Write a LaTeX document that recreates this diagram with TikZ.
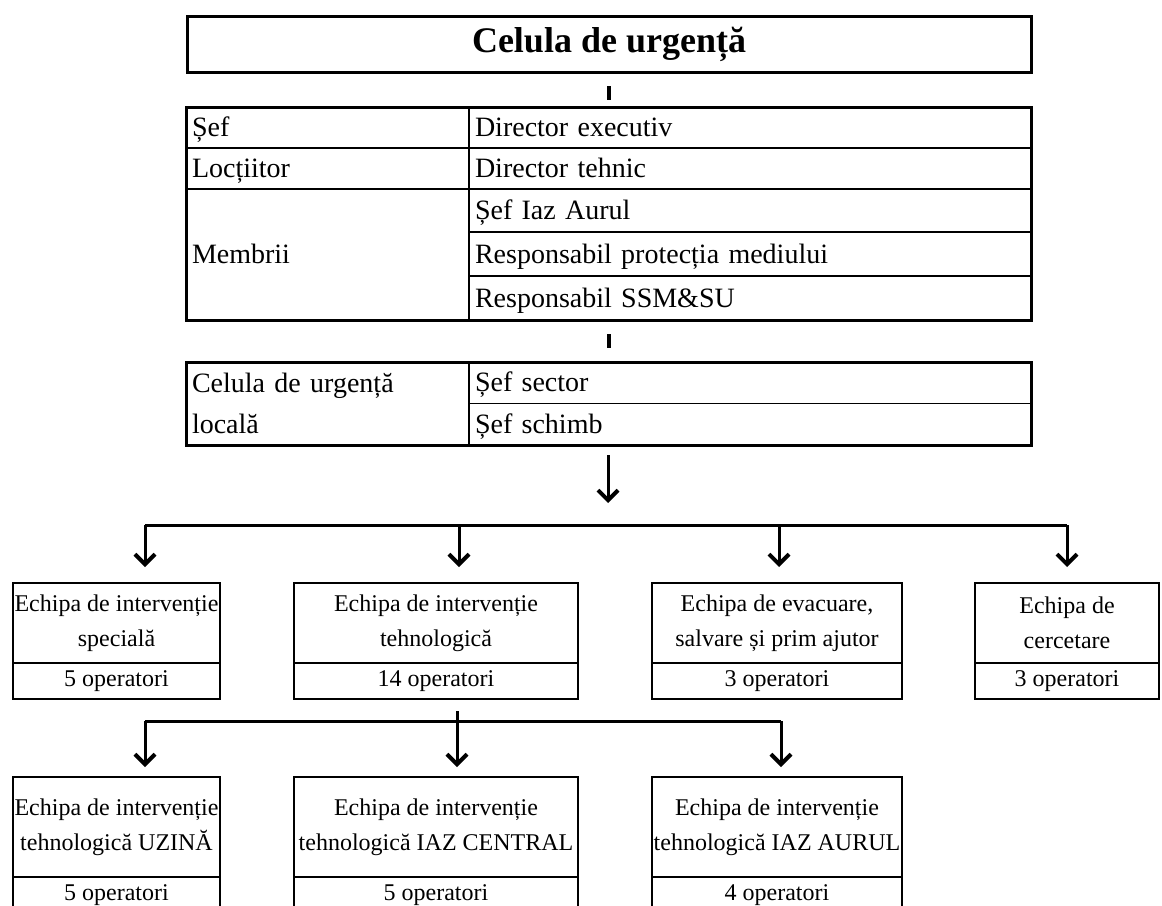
\documentclass[tikz,border=0pt]{standalone}
\usepackage{fontspec}
\setmainfont{Liberation Serif}
\usetikzlibrary{arrows.meta,positioning}

\begin{document}
\begin{tikzpicture}[x=1pt,y=-1pt,
        headbox/.style={draw,line width=3pt,minimum width=844pt,minimum height=56pt,inner sep=0pt,outer sep=0pt,font=\fontsize{36}{40}\selectfont\bfseries},
        cellbase/.style={draw,line width=1.5pt,text width=271pt,inner xsep=6pt,inner ysep=0pt,outer sep=0pt,align=left,anchor=north west,font=\fontsize{28}{30}\selectfont},
        cellL/.style={cellbase,text height=23pt,text depth=5pt},
        cellR/.style={cellL,text width=550pt},
        team/.style={draw,line width=2pt,inner sep=0pt,outer sep=0pt,align=center,anchor=north,minimum height=80pt,font=\fontsize{24}{35}\selectfont},
        count/.style={draw,line width=2pt,inner sep=0pt,outer sep=0pt,minimum height=36pt,font=\fontsize{24}{28}\selectfont},
        frame/.style={line width=3pt},
        tick/.style={line width=4pt},
        wire/.style={line width=3pt},
        arrow/.style={line width=3pt,-{Straight Barb[length=10pt,width=20pt,line width=4pt]}}]

    \useasboundingbox (0,0) rectangle (1162,905);
    \clip (0,0) rectangle (1162,905);

    % Head of the cell
    \node[headbox] (head) at (609,44) {Celula de urgență};

    % Main table
    \node[cellL,minimum height=41pt] (sef) at (186,107) {Șef};
    \node[cellR,minimum height=41pt] (dirx) at (469,107) {Director executiv};
    \node[cellL,minimum height=41pt] (loc) at (186,148) {Locțiitor};
    \node[cellR,minimum height=41pt] (dirt) at (469,148) {Director tehnic};
    \node[cellL,minimum height=131pt] (memb) at (186,189) {Membrii};
    \node[cellR,minimum height=43pt] (iaz) at (469,189) {Șef Iaz Aurul};
    \node[cellR,minimum height=44pt] (mediu) at (469,232) {Responsabil protecția mediului};
    \node[cellR,minimum height=44pt] (ssm) at (469,276) {Responsabil SSM\&SU};
    \draw[frame] (sef.north west) rectangle (ssm.south east);

    % Local cell table
    \node[cellbase,minimum height=83pt,font=\fontsize{28}{41}\selectfont] (cul) at (186,362) {Celula de urgență\\locală};
    \node[cellR,minimum height=41.5pt] (sector) at (469,362) {Șef sector};
    \node[cellR,minimum height=41.5pt] (schimb) at (469,403.5) {Șef schimb};
    \draw[frame] (cul.north west) rectangle (schimb.south east);

    % Teams
    \node[team,minimum width=207pt] (t1) at (116.5,583) {Echipa de intervenție\\specială};
    \node[count,minimum width=207pt,below=0pt of t1] (c1) {5 operatori};
    \node[team,minimum width=284pt] (t2) at (436,583) {Echipa de intervenție\\tehnologică};
    \node[count,minimum width=284pt,below=0pt of t2] (c2) {14 operatori};
    \node[team,minimum width=250pt] (t3) at (777,583) {Echipa de evacuare,\\salvare și prim ajutor};
    \node[count,minimum width=250pt,below=0pt of t3] (c3) {3 operatori};
    \node[team,minimum width=184pt] (t4) at (1067,583) {Echipa de\\cercetare};
    \node[count,minimum width=184pt,below=0pt of t4] (c4) {3 operatori};

    % Technological sub-teams
    \node[team,minimum width=207pt,minimum height=100pt] (u1) at (116.5,777) {Echipa de intervenție\\tehnologică UZINĂ};
    \node[count,minimum width=207pt,below=0pt of u1] (d1) {5 operatori};
    \node[team,minimum width=284pt,minimum height=100pt] (u2) at (436,777) {Echipa de intervenție\\tehnologică IAZ CENTRAL};
    \node[count,minimum width=284pt,below=0pt of u2] (d2) {5 operatori};
    \node[team,minimum width=250pt,minimum height=100pt] (u3) at (777,777) {Echipa de intervenție\\tehnologică IAZ AURUL};
    \node[count,minimum width=250pt,below=0pt of u3] (d3) {4 operatori};

    % Branch points
    \coordinate (j0) at (608,525);
    \coordinate (j1) at (145,525);
    \coordinate (j2) at (459,525);
    \coordinate (j3) at (779,525);
    \coordinate (j4) at (1067,525);
    \coordinate (k1) at (145,721);
    \coordinate (k2) at (457,721);
    \coordinate (k3) at (781,721);

    % Links
    \draw[tick,shorten <=14pt,shorten >=7pt] (head.south) -- (head.south |- sef.north);
    \draw[tick,shorten <=14pt,shorten >=14pt] (head.south |- ssm.south) -- (head.south |- cul.north);
    \draw[arrow,shorten <=10pt,shorten >=22pt] (j0 |- schimb.south) -- (j0);

    \draw[wire] (j1) -- (j4);
    \draw[arrow,shorten >=16pt] (j1) -- (j1 |- t1.north);
    \draw[arrow,shorten >=16pt] (j2) -- (j2 |- t2.north);
    \draw[arrow,shorten >=16pt] (j3) -- (j3 |- t3.north);
    \draw[arrow,shorten >=16pt] (j4) -- (j4 |- t4.north);

    \draw[wire] (k1) -- (k3);
    \draw[arrow,shorten >=10pt] (k1) -- (k1 |- u1.north);
    \draw[arrow,shorten <=12pt,shorten >=10pt] (k2 |- c2.south) -- (k2 |- u2.north);
    \draw[arrow,shorten >=10pt] (k3) -- (k3 |- u3.north);

\end{tikzpicture}
\end{document}
